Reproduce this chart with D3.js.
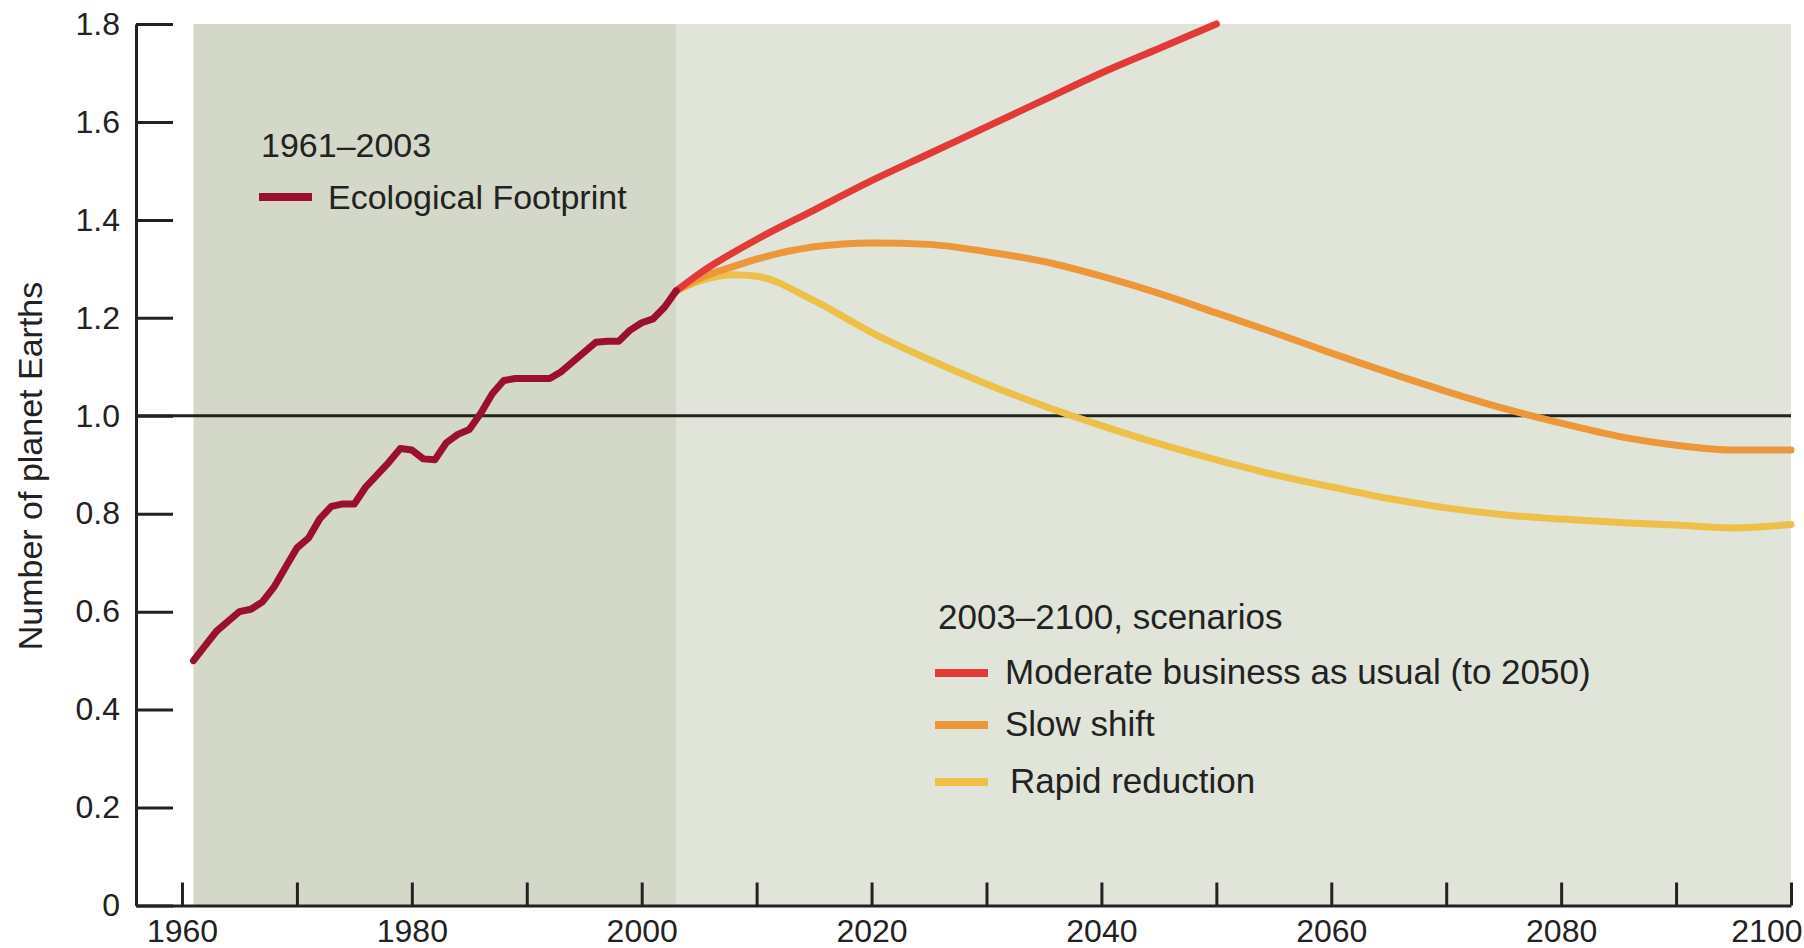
<!DOCTYPE html>
<html><head><meta charset="utf-8">
<script src="https://cdn.jsdelivr.net/npm/d3@7"></script>
<style>
html,body{margin:0;padding:0;background:#fff;}
svg{display:block;font-family:"Liberation Sans",Arial,Helvetica,sans-serif;}
</style></head><body>
<svg id="chart" width="1804" height="948"></svg>
<script>
// ---- data ----
const footprintYears = [1961,1962,1963,1964,1965,1966,1967,1968,1969,1970,1971,1972,1973,1974,1975,1976,1977,1978,1979,1980,1981,1982,1983,1984,1985,1986,1987,1988,1989,1990,1991,1992,1993,1994,1995,1996,1997,1998,1999,2000,2001,2002,2003];
const footprintValues = [0.50,0.53,0.56,0.58,0.60,0.605,0.62,0.65,0.69,0.73,0.75,0.79,0.815,0.82,0.82,0.855,0.88,0.905,0.933,0.93,0.912,0.91,0.945,0.962,0.972,1.005,1.045,1.072,1.076,1.076,1.076,1.076,1.09,1.11,1.13,1.15,1.152,1.152,1.175,1.19,1.198,1.222,1.255];

const bauYears = [2003,2005,2010,2015,2020,2025,2030,2035,2040,2045,2050];
const bauValues = [1.255,1.29,1.36,1.42,1.48,1.535,1.59,1.645,1.70,1.75,1.80];

const scenarioYears = [2003,2005,2008,2010,2015,2020,2025,2030,2035,2040,2045,2050,2055,2060,2065,2070,2075,2080,2085,2090,2095,2100];
const slowShiftValues = [1.255,1.28,1.305,1.32,1.345,1.353,1.35,1.335,1.315,1.285,1.25,1.21,1.17,1.128,1.088,1.05,1.015,0.985,0.958,0.94,0.93,0.93];
const rapidValues = [1.255,1.275,1.288,1.285,1.235,1.17,1.115,1.065,1.02,0.98,0.943,0.91,0.88,0.855,0.831,0.812,0.798,0.789,0.782,0.777,0.771,0.778];

const yTicks = [0,0.2,0.4,0.6,0.8,1.0,1.2,1.4,1.6,1.8];
const xTicks = [1960,1970,1980,1990,2000,2010,2020,2030,2040,2050,2060,2070,2080,2090,2100];
const xLabelYears = [1960,1980,2000,2020,2040,2060,2080,2100];

const historicPeriod = [1961,2003];
const scenarioPeriod = [2003,2100];

const legendHistTitle = "1961–2003";
const legendHistLabel = "Ecological Footprint";
const legendScenTitle = "2003–2100, scenarios";
const legendScenLabels = ["Moderate business as usual (to 2050)","Slow shift","Rapid reduction"];
const yTitle = "Number of planet Earths";

// ---- styles ----
const C = {
  dark:"#d4d8c8", light:"#e1e4d9", axis:"#222",
  foot:"#9b102c", bau:"#e13a37", slow:"#ec983a", rapid:"#edc04a", text:"#222"
};

const svg = d3.select("#chart");
const x = d3.scaleLinear().domain([1956,2100]).range([136,1791]);
const y = d3.scaleLinear().domain([0,1.8]).range([905.5,24]);

// backgrounds
svg.append("rect").attr("x",x(historicPeriod[0])).attr("y",y(1.8))
  .attr("width",x(historicPeriod[1])-x(historicPeriod[0])).attr("height",y(0)-y(1.8)).attr("fill",C.dark);
svg.append("rect").attr("x",x(scenarioPeriod[0])).attr("y",y(1.8))
  .attr("width",x(scenarioPeriod[1])-x(scenarioPeriod[0])).attr("height",y(0)-y(1.8)).attr("fill",C.light);

// reference line at 1.0
svg.append("line").attr("x1",x(1956)).attr("x2",x(2100)).attr("y1",y(1)).attr("y2",y(1))
  .attr("stroke",C.axis).attr("stroke-width",3);

// lines
const lineLin = d3.line().x(d=>x(d[0])).y(d=>y(d[1]));
const lineSm = d3.line().x(d=>x(d[0])).y(d=>y(d[1])).curve(d3.curveMonotoneX);
function draw(years, vals, color, gen){
  svg.append("path").datum(years.map((yr,i)=>[yr,vals[i]]))
    .attr("d",gen).attr("fill","none").attr("stroke",color)
    .attr("stroke-width",7).attr("stroke-linejoin","round").attr("stroke-linecap","round");
}
draw(scenarioYears, rapidValues, C.rapid, lineSm);
draw(scenarioYears, slowShiftValues, C.slow, lineSm);
draw(bauYears, bauValues, C.bau, lineSm);
draw(footprintYears, footprintValues, C.foot, lineLin);

// axes
const yAxis = d3.axisLeft(y).tickValues(yTicks)
  .tickFormat(d=> d===0 ? "0" : d3.format(".1f")(d))
  .tickSizeInner(-37).tickSizeOuter(0).tickPadding(16);
const gy = svg.append("g").attr("transform",`translate(${x(1956)},0)`).call(yAxis);

const xAxis = d3.axisBottom(x).tickValues(xTicks)
  .tickFormat(d=> xLabelYears.includes(d) ? String(d) : "")
  .tickSizeInner(-23).tickSizeOuter(0).tickPadding(14);
const gx = svg.append("g").attr("transform",`translate(0,${y(0)})`).call(xAxis);

[gy,gx].forEach(g=>{
  g.select(".domain").attr("stroke",C.axis).attr("stroke-width",3);
  g.selectAll(".tick line").attr("stroke",C.axis).attr("stroke-width",3);
  g.selectAll(".tick text").attr("fill",C.text).style("font-size","32px")
    .style("font-family","'Liberation Sans',Arial,sans-serif");
});
// keep the last year label inside the picture
gx.selectAll(".tick text").filter(d=>d===2100).attr("text-anchor","end").attr("dx",11);

// y title
svg.append("text").attr("transform",`translate(42,466) rotate(-90)`)
  .attr("text-anchor","middle").attr("fill",C.text).style("font-size","34px").text(yTitle);

// legends
const lg = svg.append("g").style("font-size","34px").attr("fill",C.text);
lg.append("text").attr("x",261).attr("y",157).text(legendHistTitle);
lg.append("line").attr("x1",259).attr("x2",312).attr("y1",197).attr("y2",197)
  .attr("stroke",C.foot).attr("stroke-width",8);
lg.append("text").attr("x",328).attr("y",209).text(legendHistLabel);

lg.append("text").attr("x",938).attr("y",629).style("font-size","35px").text(legendScenTitle);
const scenColors = [C.bau,C.slow,C.rapid];
const swY = [673,725,782];
const txX = [1005,1005,1010];
legendScenLabels.forEach((lab,i)=>{
  lg.append("line").attr("x1",935).attr("x2",988).attr("y1",swY[i]).attr("y2",swY[i])
    .attr("stroke",scenColors[i]).attr("stroke-width",8);
  lg.append("text").attr("x",txX[i]).attr("y",swY[i]+11).style("font-size","35px").text(lab);
});
</script>
</body></html>
